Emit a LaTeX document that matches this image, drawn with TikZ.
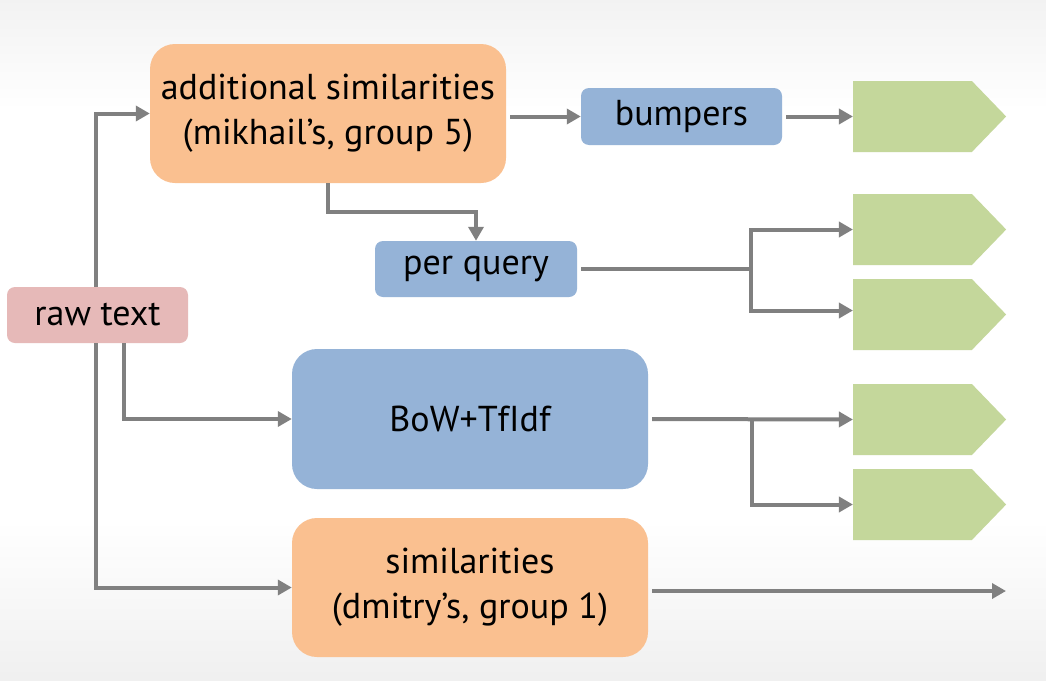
\documentclass[tikz,border=0pt]{standalone}
\usepackage{fontspec}
\setmainfont{PT Sans}
\usetikzlibrary{arrows.meta,shapes.symbols}
\definecolor{boxorange}{HTML}{FAC090}
\definecolor{boxblue}{HTML}{95B3D7}
\definecolor{boxpink}{HTML}{E6B9B8}
\definecolor{boxgreen}{HTML}{C4D79B}
\definecolor{linegray}{HTML}{808080}
\tikzset{
	box/.style={rectangle, rounded corners=8pt, inner sep=0pt, align=center,
		font=\fontsize{36}{45}\selectfont},
	bigbox/.style={box, rounded corners=25pt, minimum width=356pt, minimum height=139pt},
	smallbox/.style={box, minimum width=201pt, minimum height=56pt},
	result/.style={signal, signal to=east, signal pointer angle=92, fill=boxgreen,
		inner sep=0pt, minimum width=153pt, minimum height=71pt},
	conn/.style={linegray, line width=4pt, -{Triangle[length=14pt,width=15pt]}},
	plain/.style={linegray, line width=4pt}
}
\begin{document}
\begin{tikzpicture}[x=1pt, y=-1pt]
	% Hintergrund mit leichtem Verlauf
	\fill[white] (0,0) rectangle (1046,680);
	\shade[top color=gray!10, bottom color=white] (0,0) rectangle (1046,110);
	\shade[top color=white, bottom color=gray!12] (0,520) rectangle (1046,680);
	\useasboundingbox (0,0) rectangle (1046,680);

	\node[smallbox, fill=boxpink, minimum width=181pt] (rawtext) at (97.5,315) {raw text};
	\node[bigbox, fill=boxorange] (addsim) at (328,113.5) {additional similarities\\(mikhail’s, group 5)};
	\node[smallbox, fill=boxblue, minimum height=57pt] (bumpers) at (681.5,116.5) {bumpers};
	\node[smallbox, fill=boxblue, minimum width=202pt] (perquery) at (476,269) {per query};
	\node[bigbox, fill=boxblue, minimum height=140pt] (bow) at (470,419) {BoW+TfIdf};
	\node[bigbox, fill=boxorange] (dsim) at (470,587.5) {similarities\\(dmitry’s, group 1)};

	\node[result] (out1) at (912.5,116.5) {};
	\node[result] (out2) at (912.5,229.5) {};
	\node[result] (out3) at (912.5,314.5) {};
	\node[result] (out4) at (912.5,419.5) {};
	\node[result] (out5) at (912.5,504.5) {};

	\coordinate (pqsplit) at (751,269);
	\coordinate (bowsplit) at (752,419);
	\coordinate (dsimend) at (1006,591);

	\draw[conn] ([xshift=-2pt]rawtext.north) |- (addsim.west);
	\draw[conn] ([xshift=26pt]rawtext.south) |- (bow.west);
	\draw[conn] ([xshift=-2pt]rawtext.south) |- (dsim.west);

	\draw[conn, shorten <=4pt] (addsim.east |- bumpers.west) -- (bumpers.west);
	\draw[conn, shorten <=4pt] (bumpers.east) -- (out1.west);
	\draw[conn] (addsim.south) -- ++(0,29) -| (perquery.north);

	\draw[plain, shorten <=4pt] (perquery.east) -- (pqsplit);
	\draw[conn] (pqsplit) |- (out2.west);
	\draw[conn] (pqsplit) |- ([yshift=4pt]out3.west);

	\draw[conn, shorten <=4pt] (bow.east) -- (out4.west);
	\draw[conn] (bowsplit) |- (out5.west);

	\draw[conn, shorten <=4pt] (dsim.east |- dsimend) -- (dsimend);
\end{tikzpicture}
\end{document}
